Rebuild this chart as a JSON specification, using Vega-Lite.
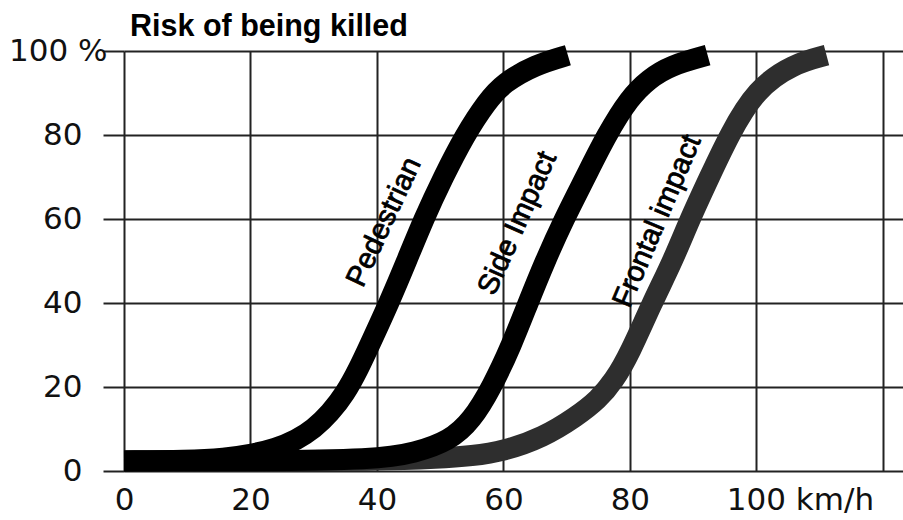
{
  "$schema": "https://vega.github.io/schema/vega-lite/v6.json",
  "width": 779,
  "height": 420,
  "autosize": {"type": "none"},
  "padding": {"left": 124, "top": 51, "right": 0, "bottom": 49},
  "background": "white",
  "config": {"view": {"stroke": null}, "font": "Liberation Sans"},
  "title": {
    "text": "Risk of being killed",
    "anchor": "start",
    "frame": "group",
    "font": "Liberation Sans",
    "fontSize": 30.5,
    "fontWeight": "bold",
    "color": "black",
    "dx": 6,
    "offset": -7
  },
  "datasets": {
    "curves": [
      {"s": "Frontal impact", "v": 0, "r": 2.4},
      {"s": "Frontal impact", "v": 20, "r": 2.4},
      {"s": "Frontal impact", "v": 40, "r": 2.5},
      {"s": "Frontal impact", "v": 50, "r": 3.0},
      {"s": "Frontal impact", "v": 55, "r": 3.6},
      {"s": "Frontal impact", "v": 60, "r": 4.7},
      {"s": "Frontal impact", "v": 66.3, "r": 8},
      {"s": "Frontal impact", "v": 71.6, "r": 13},
      {"s": "Frontal impact", "v": 75, "r": 17},
      {"s": "Frontal impact", "v": 77.5, "r": 21.5},
      {"s": "Frontal impact", "v": 80, "r": 28},
      {"s": "Frontal impact", "v": 83.5, "r": 40},
      {"s": "Frontal impact", "v": 86.8, "r": 50},
      {"s": "Frontal impact", "v": 89.5, "r": 60},
      {"s": "Frontal impact", "v": 92.6, "r": 70},
      {"s": "Frontal impact", "v": 95.7, "r": 80},
      {"s": "Frontal impact", "v": 100, "r": 91},
      {"s": "Frontal impact", "v": 105.8, "r": 96.9},
      {"s": "Frontal impact", "v": 111.1, "r": 99},
      {"s": "Side Impact", "v": 0, "r": 2.4},
      {"s": "Side Impact", "v": 20, "r": 2.4},
      {"s": "Side Impact", "v": 40, "r": 2.7},
      {"s": "Side Impact", "v": 46, "r": 4.3},
      {"s": "Side Impact", "v": 51.5, "r": 7.2},
      {"s": "Side Impact", "v": 55, "r": 12},
      {"s": "Side Impact", "v": 58.2, "r": 20},
      {"s": "Side Impact", "v": 61.3, "r": 30},
      {"s": "Side Impact", "v": 63.9, "r": 40},
      {"s": "Side Impact", "v": 66.6, "r": 50},
      {"s": "Side Impact", "v": 69.6, "r": 60},
      {"s": "Side Impact", "v": 73, "r": 70},
      {"s": "Side Impact", "v": 76.3, "r": 80},
      {"s": "Side Impact", "v": 80, "r": 89},
      {"s": "Side Impact", "v": 83, "r": 93.3},
      {"s": "Side Impact", "v": 86.3, "r": 96.5},
      {"s": "Side Impact", "v": 92.3, "r": 99},
      {"s": "Pedestrian", "v": 0, "r": 2.4},
      {"s": "Pedestrian", "v": 10, "r": 2.5},
      {"s": "Pedestrian", "v": 16, "r": 3.0},
      {"s": "Pedestrian", "v": 20, "r": 3.9},
      {"s": "Pedestrian", "v": 24, "r": 5.3},
      {"s": "Pedestrian", "v": 27.3, "r": 7.4},
      {"s": "Pedestrian", "v": 30, "r": 10},
      {"s": "Pedestrian", "v": 32.6, "r": 13.8},
      {"s": "Pedestrian", "v": 35, "r": 18.5},
      {"s": "Pedestrian", "v": 37, "r": 24},
      {"s": "Pedestrian", "v": 39, "r": 30.5},
      {"s": "Pedestrian", "v": 41.9, "r": 40},
      {"s": "Pedestrian", "v": 44.7, "r": 50},
      {"s": "Pedestrian", "v": 47.4, "r": 60},
      {"s": "Pedestrian", "v": 50.5, "r": 70},
      {"s": "Pedestrian", "v": 53.9, "r": 80},
      {"s": "Pedestrian", "v": 57.4, "r": 88},
      {"s": "Pedestrian", "v": 60, "r": 92.4},
      {"s": "Pedestrian", "v": 65, "r": 96.7},
      {"s": "Pedestrian", "v": 70.2, "r": 99}
    ],
    "labels": [
      {"label": "Pedestrian", "v": 41.1, "r": 59.3, "a": -65},
      {"label": "Side Impact", "v": 62.2, "r": 59.0, "a": -66},
      {"label": "Frontal impact", "v": 84.3, "r": 59.5, "a": -67}
    ]
  },
  "layer": [
    {
      "data": {"name": "curves"},
      "mark": {"type": "line", "strokeWidth": 21, "strokeCap": "butt", "strokeJoin": "round", "interpolate": "basis"},
      "encoding": {
        "x": {
          "field": "v",
          "type": "quantitative",
          "scale": {"domain": [0, 123.2], "nice": false, "zero": false},
          "axis": {
            "title": null,
            "values": [0, 20, 40, 60, 80, 100, 120],
            "grid": true,
            "gridColor": "#222222",
            "gridWidth": 2,
            "gridOpacity": 1,
            "ticks": false,
            "domain": false,
            "labelFont": "DejaVu Sans",
            "labelFontSize": 31,
            "labelColor": "#111111",
            "labelPadding": 14,
            "labelFlush": false,
            "labelOverlap": false,
            "labelExpr": "datum.value == 120 ? '' : datum.value == 100 ? '100 km/h' : datum.label",
            "labelAlign": {"condition": {"test": "datum.value == 100", "value": "left"}, "value": "center"},
            "labelOffset": {"condition": {"test": "datum.value == 100", "value": -30}, "value": 0}
          }
        },
        "y": {
          "field": "r",
          "type": "quantitative",
          "scale": {"domain": [0, 100], "nice": false},
          "axis": {
            "title": null,
            "values": [0, 20, 40, 60, 80, 100],
            "grid": true,
            "gridColor": "#222222",
            "gridWidth": 2,
            "gridOpacity": 1,
            "ticks": true,
            "tickSize": 21,
            "tickColor": "#222222",
            "tickWidth": 2,
            "domain": false,
            "labelFont": "DejaVu Sans",
            "labelFontSize": 31,
            "labelColor": "#111111",
            "labelFlush": false,
            "labelOverlap": false,
            "labelExpr": "datum.value == 100 ? '100 %' : datum.label",
            "labelPadding": {"condition": {"test": "datum.value == 100", "value": -4}, "value": 21}
          }
        },
        "color": {
          "field": "s",
          "type": "nominal",
          "scale": {"domain": ["Frontal impact", "Side Impact", "Pedestrian"], "range": ["#2e2e2e", "#000000", "#000000"]},
          "legend": null
        }
      }
    },
    {
      "data": {"name": "labels"},
      "mark": {"type": "text", "font": "Liberation Sans", "fontSize": 29, "align": "center", "baseline": "middle", "color": "black", "stroke": "black", "strokeWidth": 0.8},
      "encoding": {
        "x": {"field": "v", "type": "quantitative"},
        "y": {"field": "r", "type": "quantitative"},
        "text": {"field": "label"},
        "angle": {"field": "a", "type": "quantitative", "scale": null}
      }
    }
  ]
}
